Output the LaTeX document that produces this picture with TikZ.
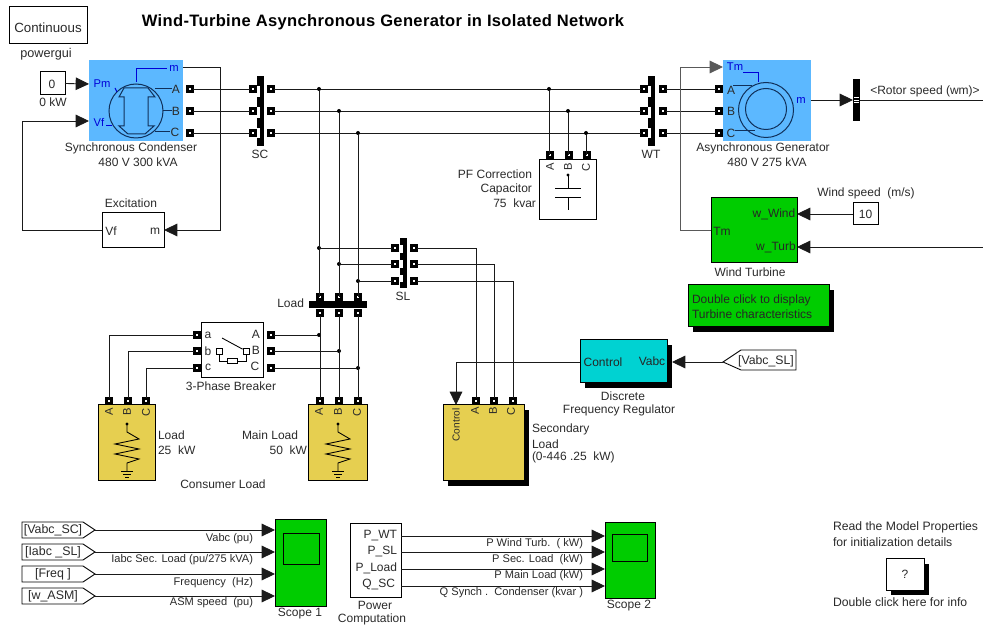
\documentclass[tikz,border=0pt]{standalone}
\usepackage{fontspec}
\setmainfont{Liberation Sans}
\usetikzlibrary{arrows.meta,calc}
\definecolor{blueblk}{HTML}{5CB8FF}
\definecolor{greenblk}{HTML}{00CC00}
\definecolor{yellowblk}{HTML}{E6CF50}
\definecolor{tealblk}{HTML}{00D2D2}
\definecolor{machine}{HTML}{10305A}
\definecolor{sigblue}{HTML}{0000D8}
\definecolor{wire}{HTML}{1A1A1A}
\definecolor{ink}{HTML}{2A2A2A}
\tikzset{
  x=0.75pt,y=-0.75pt,
  txt/.style={inner sep=0pt,outer sep=0pt,text=ink,font=\fontsize{9}{10}\selectfont},
  ltxt/.style={txt,anchor=west},
  rtxt/.style={txt,anchor=east},
  blt/.style={txt,text=sigblue,font=\fontsize{8.4}{10}\selectfont},
  vtxt/.style={txt,rotate=90,font=\fontsize{8.4}{10}\selectfont},
  small/.style={font=\fontsize{8.3}{10}\selectfont},
  info/.style={font=\fontsize{9.15}{10}\selectfont},
  frame/.style={draw=black,line width=0.75pt,inner sep=0pt,outer sep=0pt},
  portbox/.style={draw=black,fill=white,line width=2pt,minimum size=3.9pt,inner sep=0pt,outer sep=0pt},
  conn/.style={draw=wire,line width=0.65pt},
  sig/.style={conn,-{Triangle[length=10pt,width=9.5pt]},shorten >=0pt},
  dot/.style={circle,fill=black,inner sep=0pt,minimum size=3pt,outer sep=0pt},
  sym/.style={draw=black,line width=0.65pt},
  tag/.style={draw=black,line width=0.65pt,fill=white},
  mach/.style={draw=machine,line width=0.75pt},
  bluel/.style={draw=sigblue,line width=0.75pt},
}
% \blk{style}{name}{x1}{y1}{x2}{y2}
\newcommand\blk[6]{\node[frame,#1,minimum width={(#5-#3)*0.75pt},minimum height={(#6-#4)*0.75pt}] (#2) at ({(#3+#5)/2},{(#4+#6)/2}) {};}
\newcommand\shad[4]{\fill[black] (#1+5,#2+5) rectangle (#3+5,#4+5);}
\newcommand\portat[3]{\node[portbox] (#1) at (#2,#3) {};}
% vertical phase bus: left x, top y, height
\newcommand\vbar[3]{%
 \fill[black] ({#1+3},#2) rectangle ({#1+7},{#2+#3});
 \fill[black] (#1,#2) rectangle ({#1+7},{#2+#3*0.14});
 \fill[black] (#1,{#2+#3*0.30}) rectangle ({#1+7},{#2+#3*0.44});
 \fill[black] (#1,{#2+#3*0.60}) rectangle ({#1+7},{#2+#3*0.74});
 \fill[black] (#1,{#2+#3*0.89}) rectangle ({#1+7},{#2+#3});}
% resistor with ground, name, x
\newcommand\loadsym[2]{%
 \node[dot,minimum size=2.5pt] (#1dot) at (#2,424) {};
 \draw[sym] (#2,424) -- (#2,432) -- (#2+12,439) -- (#2-12,444) -- (#2+12,449) -- (#2-12,454) -- (#2+12,459) -- (#2,463) -- (#2,471);
 \draw[sym] (#2-6,471) -- (#2+6,471) (#2-4,474) -- (#2+4,474) (#2-2,477) -- (#2+2,477);}
\begin{document}
\begin{tikzpicture}
\useasboundingbox (0,0) rectangle (983,627);
% ---- title & powergui
\node[txt,font=\bfseries\fontsize{12.4}{14}\selectfont\addfontfeature{LetterSpace=2.1},text=black] (title) at (383,22) {Wind-Turbine Asynchronous Generator in Isolated Network};
\blk{fill=white}{pgui}{9}{7}{87}{44}
\node[txt,font=\fontsize{10}{12}\selectfont] (pguit) at (48,27.5) {Continuous};
\node[txt,font=\fontsize{9.5}{12}\selectfont] (pguil) at (46,54) {powergui};

% ---- Synchronous condenser
\node[fill=blueblk,inner sep=0pt,outer sep=0pt,minimum width={94*0.75pt},minimum height={81*0.75pt}] (syn) at (136,100.5) {};
\draw[mach] (136,111) circle [radius=27];
\draw[mach] (119,97) -- (124,88) -- (148,88) -- (155,97) -- (148,97) -- (148,126) -- (154,126) -- (145,134) -- (128,134) -- (119,126) -- (124,126) -- (124,97) -- cycle;
\draw[bluel] (115,88) -- (117,92);
\draw[bluel] (136,82) -- (136,69) -- (167,69);
\draw[bluel] (106,126) -- (112,126);
\draw[mach] (155,89) -- (172,89) (163,111) -- (172,111) (155,132) -- (170,132);
\node[blt] (synPm) at (102,84) {Pm};
\node[blt] (synVf) at (99,122) {Vf};
\node[blt] (synm) at (174,68) {m};
\node[txt] (synA) at (176,89) {A};
\node[txt] (synB) at (176,111) {B};
\node[txt] (synC) at (175,132) {C};
\node[txt] (synl1) at (131,148) {Synchronous Condenser};
\node[txt] (synl2) at (138,162) {480 V 300 kVA};
\portat{synpa}{190}{89}\portat{synpb}{190}{111}\portat{synpc}{190}{133}

% constant 0
\blk{fill=white}{cz}{40}{72}{65}{95}
\node[txt] (czt) at (52,84) {0};
\node[txt] (czl) at (53,102) {0 kW};
\coordinate (synin1) at (89,84);
\coordinate (synin2) at (89,121);
\draw[sig] (cz.east) -- (synin1);

% Excitation
\blk{fill=white}{exc}{102}{213}{164}{248}
\node[txt] (excl) at (131,203) {Excitation};
\node[txt] (excv) at (111,231) {Vf};
\node[txt] (excm) at (155,231) {m};
\coordinate (fb1) at (22,230);
\coordinate (fb2) at (22,121);
\draw[sig] (exc.west |- fb1) -- (fb1) -- (fb2) -- (synin2);
\coordinate (synm1) at (183,67);
\coordinate (synm2) at (220,67);
\coordinate (synm3) at (220,230);
\draw[sig] (synm1) -- (synm2) -- (synm3) -- (exc.east |- synm3);

% ---- SC bus
\vbar{257}{76}{70}
\node[txt] (scl) at (260,154) {SC};
\portat{scla}{253}{89}\portat{sclb}{253}{111}\portat{sclc}{253}{133}
\portat{scra}{271}{89}\portat{scrb}{271}{111}\portat{scrc}{271}{133}
\draw[conn] (synpa) -- (scla);
\draw[conn] (synpb) -- (sclb);
\draw[conn] (synpc) -- (sclc);

% ---- WT bus
\vbar{648}{76}{70}
\node[txt] (wtl) at (651,154) {WT};
\portat{wtla}{644}{89}\portat{wtlb}{644}{111}\portat{wtlc}{644}{133}
\portat{wtra}{663}{89}\portat{wtrb}{663}{111}\portat{wtrc}{663}{133}
\draw[conn] (scra) -- (wtla);
\draw[conn] (scrb) -- (wtlb);
\draw[conn] (scrc) -- (wtlc);

% junctions on the main bus
\node[dot] (ja1) at (319,89) {};
\node[dot] (jb1) at (339,111) {};
\node[dot] (jc1) at (358,133) {};
\node[dot] (ja2) at (549,89) {};
\node[dot] (jb2) at (568,111) {};
\node[dot] (jc2) at (586,133) {};

% ---- Asynchronous generator
\node[fill=blueblk,inner sep=0pt,outer sep=0pt,minimum width={88*0.75pt},minimum height={81*0.75pt}] (asy) at (767,100.5) {};
\draw[mach] (766,110) circle [radius=27.5];
\draw[mach] (766,109) circle [radius=20.5];
\draw[bluel] (743,73) -- (758,73) -- (758,82);
\draw[mach] (733,86) -- (752,86) (735,131) -- (755,131);
\node[blt] (asyTm) at (735,67) {Tm};
\node[txt] (asyA) at (731,90) {A};
\node[txt] (asyB) at (731,111) {B};
\node[txt] (asyC) at (731,133) {C};
\node[blt] (asym) at (801,100) {m};
\node[txt] (asyl1) at (763,148) {Asynchronous Generator};
\node[txt] (asyl2) at (767,162) {480 V 275 kVA};
\portat{asypa}{719}{89}\portat{asypb}{719}{111}\portat{asypc}{719}{133}
\draw[conn] (wtra) -- (asypa);
\draw[conn] (wtrb) -- (asypb);
\draw[conn] (wtrc) -- (asypc);

% rotor speed demux
\fill[black] (853,79) rectangle (860,121);
\draw[white,line width=0.5pt] (854,97.5) -- (859,97.5) (854,100) -- (859,100) (854,102.5) -- (859,102.5);
\coordinate (asyout) at (811,100);
\coordinate (dmxin) at (853,100);
\coordinate (dmxout) at (860,100);
\coordinate (rightend) at (983,100);
\coordinate (rightend2) at (983,247);
\draw[sig] (asyout) -- (dmxin);
\draw[conn] (dmxout) -- (rightend);
\node[txt] (rotl) at (925,91) {<Rotor speed (wm)>};

% ---- Wind turbine
\blk{fill=greenblk}{wt}{711}{198}{797}{263}
\node[txt,text=black!85] (wtT) at (722,231) {Tm};
\node[txt,text=black!85] (wtW) at (774,214) {w\_Wind};
\node[txt,text=black!85] (wtU) at (776,247) {w\_Turb};
\node[txt] (wtlab) at (750,272) {Wind Turbine};
\blk{fill=white}{ten}{853}{203}{878}{225}
\node[txt] (tent) at (865.5,214) {10};
\node[txt] (windl) at (866,193) {Wind speed\ \ (m/s)};
\draw[sig] (ten.west) -- (wt.east |- ten.west);
\draw[sig] (rightend2) -- (wt.east |- rightend2);
\coordinate (tm1) at (680,230);
\coordinate (tm2) at (680,67);
\coordinate (tm3) at (723,67);
\draw[sig,draw=black!65] (wt.west |- tm1) -- (tm1) -- (tm2) -- (tm3);
% note
\shad{688}{285}{829}{327}
\blk{fill=greenblk}{note}{688}{285}{829}{327}
\node[ltxt,text=black!85] (note1) at (692,300) {Double click to display};
\node[ltxt,text=black!85] (note2) at (692,314) {Turbine characteristics};

% ---- Capacitor
\blk{fill=white}{cap}{539}{160}{596}{220}
\node[vtxt] (capA) at (550,167) {A};
\node[vtxt] (capB) at (568,167) {B};
\node[vtxt] (capC) at (586,167) {C};
\node[dot,minimum size=2.5pt] (capdot) at (568,175) {};
\draw[sym] (568,175) -- (568,188) (555,188) -- (581,188) (555,197) -- (581,197) (568,197) -- (568,210);
\portat{cappa}{550}{155}\portat{cappb}{569}{155}\portat{cappc}{587}{155}
\draw[conn] (ja2) -- (ja2 |- cappa);
\draw[conn] (jb2) -- (jb2 |- cappb);
\draw[conn] (jc2) -- (jc2 |- cappc);
\node[rtxt] (capl1) at (532,174) {PF Correction};
\node[rtxt] (capl2) at (532,189) {Capacitor};
\node[rtxt] (capl3) at (536,203) {75\ \ kvar};

% ---- SL bus
\vbar{400}{238}{50}
\node[txt] (sll) at (403,296) {SL};
\portat{slla}{395}{248}\portat{sllb}{395}{264}\portat{sllc}{395}{281}
\portat{slra}{414}{248}\portat{slrb}{414}{264}\portat{slrc}{414}{281}
\node[dot] (ja3) at (319,248) {};
\node[dot] (jb3) at (339,264) {};
\node[dot] (jc3) at (358,281) {};
\draw[conn] (ja3) -- (slla);
\draw[conn] (jb3) -- (sllb);
\draw[conn] (jc3) -- (sllc);

% ---- Load bus
\fill[black] (309,301) rectangle (367,308);
\node[rtxt] (loadl) at (304,303) {Load};
\portat{ltopa}{320}{297}\portat{ltopb}{339}{297}\portat{ltopc}{358}{297}
\portat{lbota}{320}{313}\portat{lbotb}{339}{313}\portat{lbotc}{358}{313}
\draw[conn] (ja1) -- (ja1 |- ltopa);
\draw[conn] (jb1) -- (jb1 |- ltopb);
\draw[conn] (jc1) -- (jc1 |- ltopc);

% ---- Breaker
\blk{fill=white}{brk}{201}{323}{263}{378}
\portat{brla}{197}{335}\portat{brlb}{197}{351}\portat{brlc}{197}{368}
\portat{brra}{271}{335}\portat{brrb}{271}{351}\portat{brrc}{271}{368}
\node[txt] (bra1) at (208,335) {a};
\node[txt] (brb1) at (208,351) {b};
\node[txt] (brc1) at (208,367) {c};
\node[txt] (bra2) at (256,334) {A};
\node[txt] (brb2) at (256,350) {B};
\node[txt] (brc2) at (255,366) {C};
\node[txt] (brl) at (231,386) {3-Phase Breaker};
\node[draw=black,fill=white,line width=0.6pt,minimum size=4.5pt,inner sep=0pt] (brs1) at (219,351) {};
\node[draw=black,fill=white,line width=0.6pt,minimum size=4.5pt,inner sep=0pt] (brs2) at (246,351) {};
\node[draw=black,fill=white,line width=0.6pt,minimum width=7.5pt,minimum height=3.5pt,inner sep=0pt] (brr) at (232,361) {};
\coordinate (brk1) at (222,338);
\draw[sym] (brk1) -- (brs2);
\draw[sym] (brs1) -- (219,361) -- (brr.west);
\draw[sym] (brr.east) -- (246,361) -- (brs2);
\node[dot] (ja4) at (319,335) {};
\node[dot] (jb4) at (339,351) {};
\node[dot] (jc4) at (358,368) {};
\draw[conn] (brra) -- (ja4);
\draw[conn] (brrb) -- (jb4);
\draw[conn] (brrc) -- (jc4);

% ---- Consumer load
\blk{fill=yellowblk}{cl}{98}{405}{155}{481}
\node[vtxt] (clA) at (109,412) {A};
\node[vtxt] (clB) at (127,412) {B};
\node[vtxt] (clC) at (146,412) {C};
\loadsym{cl}{127}
\portat{clpa}{109}{401}\portat{clpb}{128}{401}\portat{clpc}{146}{401}
\coordinate (clba) at (109,335);
\coordinate (clbb) at (128,351);
\coordinate (clbc) at (146,368);
\draw[conn] (brla) -- (clba) -- (clpa);
\draw[conn] (brlb) -- (clbb) -- (clpb);
\draw[conn] (brlc) -- (clbc) -- (clpc);
\node[ltxt] (cll1) at (158,435) {Load};
\node[ltxt] (cll2) at (158,450) {25\ \ kW};
\node[txt] (cons) at (223,484) {Consumer Load};

% ---- Main load
\blk{fill=yellowblk}{ml}{308}{405}{367}{481}
\node[vtxt] (mlA) at (319,412) {A};
\node[vtxt] (mlB) at (338,412) {B};
\node[vtxt] (mlC) at (357,412) {C};
\loadsym{ml}{338}
\portat{mlpa}{320}{401}\portat{mlpb}{339}{401}\portat{mlpc}{358}{401}
\draw[conn] (lbota) -- (mlpa);
\draw[conn] (lbotb) -- (mlpb);
\draw[conn] (lbotc) -- (mlpc);
\node[ltxt] (mll1) at (242,435) {Main Load};
\node[rtxt] (mll2) at (307,450) {50\ \ kW};

% ---- Secondary load
\shad{443}{405}{524}{481}
\blk{fill=yellowblk}{sl}{443}{405}{524}{481}
\node[vtxt,font=\fontsize{7.6}{10}\selectfont] (slctl) at (456,425) {Control};
\node[vtxt] (slA) at (475,411) {A};
\node[vtxt] (slB) at (493,411) {B};
\node[vtxt] (slC) at (511,411) {C};
\portat{slpa}{476}{401}\portat{slpb}{494}{401}\portat{slpc}{513}{401}
\coordinate (sla1) at (476,248);
\coordinate (slb1) at (494,264);
\coordinate (slc1) at (513,281);
\draw[conn] (slra) -- (sla1) -- (slpa);
\draw[conn] (slrb) -- (slb1) -- (slpb);
\draw[conn] (slrc) -- (slc1) -- (slpc);
\node[ltxt] (sl1) at (532,429) {Secondary};
\node[ltxt] (sl2) at (532,444) {Load};
\node[ltxt] (sl3) at (532,457) {(0-446 .25\ \ kW)};

% ---- Frequency regulator
\shad{580}{340}{667}{383}
\blk{fill=tealblk}{freg}{580}{340}{667}{383}
\node[txt,text=black!85] (fr1) at (603,362) {Control};
\node[txt,text=black!85] (fr2) at (652,361) {Vabc};
\node[txt] (fr3) at (623,396) {Discrete};
\node[txt] (fr4) at (619,410) {Frequency Regulator};
\coordinate (frc) at (456,362);
\draw[sig] (freg.west |- frc) -- (frc) -- (frc |- sl.north);
\draw[tag] (723,362) -- (741,350) -- (796,350) -- (796,370) -- (741,370) -- cycle;
\node[txt,font=\fontsize{9.2}{10}\selectfont] (vsl) at (766,361) {[Vabc\_SL]};
\coordinate (vslp) at (723,362);
\coordinate (fregin) at (672,362);
\draw[sig] (vslp) -- (fregin);

% ---- Goto/from tags and Scope 1
\blk{fill=greenblk}{sc1}{275}{520}{326}{606}
\blk{fill=greenblk,line width=0.7pt}{sc1s}{283}{533}{319}{564}
\node[txt] (sc1l) at (300,614) {Scope 1};
\draw[tag] (22,522) -- (83,522) -- (95,530) -- (83,538) -- (22,538) -- cycle;
\draw[tag] (22,544) -- (83,544) -- (95,552) -- (83,560) -- (22,560) -- cycle;
\draw[tag] (22,566) -- (83,566) -- (95,574) -- (83,582) -- (22,582) -- cycle;
\draw[tag] (22,588) -- (83,588) -- (95,596) -- (83,604) -- (22,604) -- cycle;
\node[txt,font=\fontsize{9.3}{10}\selectfont] (f1) at (53,530) {[Vabc\_SC]};
\node[txt,font=\fontsize{9.3}{10}\selectfont] (f2) at (53,552) {[Iabc \_SL]};
\node[txt,font=\fontsize{9.3}{10}\selectfont] (f3) at (53,574) {[Freq ]};
\node[txt,font=\fontsize{9.3}{10}\selectfont] (f4) at (53,596) {[w\_ASM]};
\coordinate (f1o) at (95,530);
\coordinate (f2o) at (95,552);
\coordinate (f3o) at (95,574);
\coordinate (f4o) at (95,596);
\draw[sig] (f1o) -- (sc1.west |- f1o);
\draw[sig] (f2o) -- (sc1.west |- f2o);
\draw[sig] (f3o) -- (sc1.west |- f3o);
\draw[sig] (f4o) -- (sc1.west |- f4o);
\node[rtxt,small] (s1a) at (253,538.5) {Vabc (pu)};
\node[rtxt,small] (s1b) at (253,560) {Iabc Sec. Load (pu/275 kVA)};
\node[rtxt,small] (s1c) at (253,582.5) {Frequency\ \ (Hz)};
\node[rtxt,small] (s1d) at (253,603) {ASM speed\ \ (pu)};

% ---- Power computation and Scope 2
\blk{fill=white}{pc}{350}{524}{401}{597}
\node[rtxt] (pc1) at (397,536) {P\_WT};
\node[rtxt] (pc2) at (397,552) {P\_SL};
\node[rtxt] (pc3) at (397,568) {P\_Load};
\node[rtxt] (pc4) at (395,585) {Q\_SC};
\node[txt] (pc5) at (375,605) {Power};
\node[txt] (pc6) at (372,619) {Computation};
\blk{fill=greenblk}{sc2}{605}{523}{655}{598}
\blk{fill=greenblk,line width=0.7pt}{sc2s}{612}{534}{647}{561}
\node[txt] (sc2l) at (629,606) {Scope 2};
\coordinate (p1) at (401,536);
\coordinate (p2) at (401,552);
\coordinate (p3) at (401,569);
\coordinate (p4) at (401,586);
\draw[sig] (p1) -- (sc2.west |- p1);
\draw[sig] (p2) -- (sc2.west |- p2);
\draw[sig] (p3) -- (sc2.west |- p3);
\draw[sig] (p4) -- (sc2.west |- p4);
\node[rtxt,small] (s2a) at (583,544) {P Wind Turb.\ \ ( kW)};
\node[rtxt,small] (s2b) at (583,559.5) {P Sec. Load\ \ (kW)};
\node[rtxt,small] (s2c) at (583,576) {P Main Load (kW)};
\node[rtxt,small] (s2d) at (583,592.5) {Q Synch .\ \ Condenser (kvar )};

% ---- Info
\node[ltxt,info] (rd1) at (833,527) {Read the Model Properties};
\node[ltxt,info] (rd2) at (833,542) {for initialization details};
\shad{886}{559}{924}{590}
\blk{fill=white}{infob}{886}{559}{924}{590}
\node[txt] (infoq) at (905,574) {?};
\node[ltxt,info] (rd3) at (833,602) {Double click here for info};
\end{tikzpicture}
\end{document}
